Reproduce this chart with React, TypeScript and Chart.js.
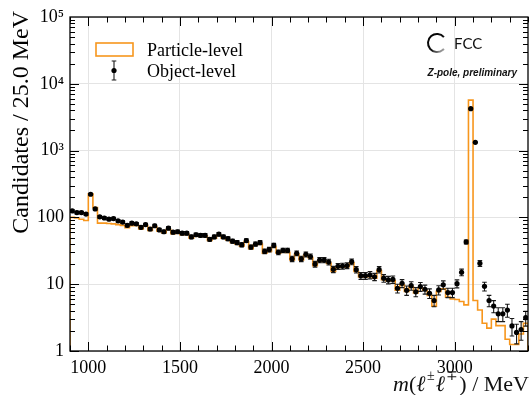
import React, { useEffect, useRef } from 'react';
import { Chart, registerables } from 'chart.js';

Chart.register(...registerables);

// Histogram binning: 100 bins of 25 MeV from 900 to 3400 MeV
const BIN_LOW = 900;
const BIN_WIDTH = 25;

// Object-level (black points), candidates per bin
const objectLevel = [
  125, 118, 118, 112, 222, 134, 102, 98, 94, 96,
  89, 85, 76, 82, 80, 71, 78, 67, 75, 65,
  61, 69, 60, 61, 58, 58, 51, 55, 54, 54,
  47, 51, 56, 51, 48, 44, 42, 39, 45, 36,
  40, 42, 31, 33, 38, 30, 32, 32, 24, 29,
  24, 28, 26, 20, 23, 23, 21.5, 16.7, 18.5, 18.7,
  19, 21.7, 16.5, 13.4, 13.4, 13.7, 12.9, 16.5, 12.3, 11.6,
  11.8, 8.7, 10.3, 8.1, 9.5, 7.7, 9.2, 8.4, 7.3, 5.7,
  8.2, 9.8, 7.5, 7.5, 10.2, 15.1, 43, 4240, 1330, 20.5,
  9.3, 5.7, 4.7, 3.6, 3.6, 4.1, 2.37, 1.9, 2.1, 3.15,
];

// Object-level uncertainties (half length of the error bars)
const objectError = [
  5.0, 4.9, 4.9, 4.7, 6.7, 5.2, 4.5, 4.4, 4.3, 4.4,
  4.2, 4.1, 3.9, 4.0, 4.0, 3.8, 3.9, 3.7, 3.9, 3.6,
  3.5, 3.7, 3.5, 3.5, 3.4, 3.4, 3.2, 3.3, 3.3, 3.3,
  3.1, 3.2, 3.3, 3.2, 3.1, 3.0, 2.9, 2.8, 3.0, 2.7,
  2.8, 2.9, 2.5, 2.6, 2.8, 2.4, 2.5, 2.5, 2.2, 2.4,
  2.2, 2.4, 2.3, 2.0, 2.1, 2.1, 2.1, 1.8, 1.9, 1.9,
  1.9, 2.1, 1.8, 1.6, 1.6, 1.7, 1.6, 1.8, 1.6, 1.5,
  1.5, 1.3, 1.4, 1.3, 1.4, 1.2, 1.4, 1.3, 1.2, 1.1,
  1.3, 1.4, 1.2, 1.2, 1.4, 1.7, 2.9, 29, 16, 2.0,
  1.4, 1.1, 0.97, 0.85, 0.85, 0.9, 0.69, 0.62, 0.65, 0.79,
];

// Particle-level (orange step histogram)
const particleLevel = [
  100, 98, 94, 90, 225, 140, 82, 82, 81, 80,
  78, 76, 70, 75, 76, 67, 74, 64, 72, 62,
  59, 66, 57, 59, 55, 56, 49, 53, 52, 52,
  45, 49, 54, 49, 46, 42, 40, 37, 43, 34,
  39, 40, 29, 31, 36, 29, 31, 30, 23, 28,
  23, 27, 25, 19, 22, 22, 20.5, 15.5, 17.8, 18,
  18.3, 21, 15.5, 12.8, 12.8, 13.1, 12.3, 16, 11.7, 11.2,
  11.3, 8.1, 9.8, 7.8, 9.1, 7.4, 8.7, 8.1, 6.8, 4.7,
  7.8, 8.5, 6.4, 6.0, 5.9, 5.5, 4.9, 5700, 5.7, 4.1,
  2.6, 2.2, 3.0, 2.4, 2.4, 1.5, 1.25, 1.25, 1.8, 2.6,
];

const xTickValues = [1000, 1500, 2000, 2500, 3000];
const yTickValues = [1, 10, 100, 1000, 10000, 100000];
const yTickLabels = ['1', '10', '100', '10³', '10⁴', '10⁵'];

const X_MIN = 900;
const X_MAX = 3400;
const Y_MIN = 1;
const Y_MAX = 100000;

const SERIF = '"Liberation Serif", "Times New Roman", Times, serif';
const SANS = '"Liberation Sans", Arial, Helvetica, sans-serif';
const ORANGE = '#f7961d';

const framePlugin = {
  id: 'frameAndDecor',
  beforeDatasetDraw(chart: any, args: any) {
    if (args.index !== 0) return;
    const { ctx, chartArea, scales } = chart;
    const x = scales.x;
    const y = scales.y;
    ctx.save();
    ctx.beginPath();
    ctx.rect(chartArea.left, chartArea.top, chartArea.right - chartArea.left, chartArea.bottom - chartArea.top);
    ctx.clip();
    ctx.strokeStyle = '#1a1a1a';
    ctx.lineWidth = 1.1;
    ctx.beginPath();
    objectLevel.forEach((v, i) => {
      const e = objectError[i];
      const px = x.getPixelForValue(BIN_LOW + BIN_WIDTH * (i + 0.5));
      const lo = Math.max(v - e, 0.01);
      const pyHi = y.getPixelForValue(v + e);
      const pyLo = y.getPixelForValue(lo);
      ctx.moveTo(px, pyHi);
      ctx.lineTo(px, pyLo);
      ctx.moveTo(px - 2.3, pyHi);
      ctx.lineTo(px + 2.3, pyHi);
      ctx.moveTo(px - 2.3, pyLo);
      ctx.lineTo(px + 2.3, pyLo);
    });
    ctx.stroke();
    ctx.restore();
  },
  afterDraw(chart: any) {
    const { ctx, chartArea, scales } = chart;
    const { left, right, top, bottom } = chartArea;
    const x = scales.x;
    const y = scales.y;
    ctx.save();
    // ticks (inward, all four sides)
    ctx.strokeStyle = '#000';
    ctx.lineWidth = 1;
    ctx.beginPath();
    for (let v = X_MIN; v <= X_MAX; v += 100) {
      const px = Math.round(x.getPixelForValue(v)) + 0.5;
      const len = v % 500 === 0 ? 9 : 5.5;
      ctx.moveTo(px, bottom);
      ctx.lineTo(px, bottom - len);
      ctx.moveTo(px, top);
      ctx.lineTo(px, top + len);
    }
    for (let d = 0; d < 5; d++) {
      for (let k = 1; k <= 9; k++) {
        const v = k * Math.pow(10, d);
        const py = Math.round(y.getPixelForValue(v)) + 0.5;
        const len = k === 1 ? 9 : 5;
        ctx.moveTo(left, py);
        ctx.lineTo(left + len, py);
        ctx.moveTo(right, py);
        ctx.lineTo(right - len, py);
      }
    }
    ctx.stroke();
    ctx.lineWidth = 1.3;
    ctx.strokeRect(left, top, right - left, bottom - top);

    // legend
    ctx.strokeStyle = ORANGE;
    ctx.lineWidth = 1.6;
    ctx.strokeRect(96, 43, 37, 13);
    ctx.fillStyle = '#000';
    ctx.font = `18px ${SERIF}`;
    ctx.textAlign = 'left';
    ctx.textBaseline = 'alphabetic';
    ctx.fillText('Particle-level', 147, 56);
    ctx.fillText('Object-level', 147, 77);
    ctx.strokeStyle = '#1a1a1a';
    ctx.lineWidth = 1.1;
    ctx.beginPath();
    ctx.moveTo(114, 61);
    ctx.lineTo(114, 80);
    ctx.moveTo(111.7, 61);
    ctx.lineTo(116.3, 61);
    ctx.moveTo(111.7, 80);
    ctx.lineTo(116.3, 80);
    ctx.stroke();
    ctx.beginPath();
    ctx.arc(114, 70.5, 2.6, 0, Math.PI * 2);
    ctx.fill();

    // FCC logo
    const cx = 437;
    const cy = 43;
    const r = 9;
    const g = ctx.createLinearGradient(cx - r, cy - r, cx + r, cy + r);
    g.addColorStop(0, '#000');
    g.addColorStop(0.55, '#111');
    g.addColorStop(1, '#d8d8d8');
    ctx.strokeStyle = g;
    ctx.lineWidth = 2;
    ctx.beginPath();
    ctx.arc(cx, cy, r, (-40 * Math.PI) / 180, (40 * Math.PI) / 180, true);
    ctx.stroke();
    ctx.fillStyle = '#111';
    ctx.font = `15px Lato, ${SANS}`;
    ctx.fillText('FCC', 454, 48.5);
    ctx.font = `italic bold 10px ${SANS}`;
    ctx.textAlign = 'right';
    ctx.fillText('Z-pole, preliminary', 517, 76);

    // y axis title
    ctx.save();
    ctx.translate(28, 11);
    ctx.rotate(-Math.PI / 2);
    ctx.textAlign = 'right';
    ctx.fillStyle = '#000';
    ctx.font = `24px ${SERIF}`;
    ctx.fillText('Candidates / 25.0 MeV', 0, 0);
    ctx.restore();

    // x axis title: m(l± l∓) / MeV
    const base = 391;
    const big = `22px ${SERIF}`;
    const bigIt = `italic 22px ${SERIF}`;
    const small = `14px ${SERIF}`;
    const pieces = [
      { t: 'm', f: bigIt, dy: 0, gap: 0 },
      { t: '(', f: big, dy: 0, gap: 0 },
      { t: 'ℓ', f: bigIt, dy: 0, gap: 1.5 },
      { t: '±', f: small, dy: -11, gap: 1 },
      { t: 'ℓ', f: bigIt, dy: 0, gap: 1.5 },
      { t: '∓', f: small, dy: -11, gap: 1 },
      { t: ') / MeV', f: big, dy: 0, gap: 0 },
    ];
    ctx.textAlign = 'left';
    let total = 0;
    const widths = pieces.map((p) => {
      ctx.font = p.f;
      const w = ctx.measureText(p.t).width + p.gap;
      total += w;
      return w;
    });
    let cur = 529 - total;
    pieces.forEach((p, i) => {
      ctx.font = p.f;
      ctx.fillText(p.t, cur, base + p.dy);
      cur += widths[i];
    });
    ctx.restore();
  },
};

export default function App() {
  const canvasRef = useRef<HTMLCanvasElement | null>(null);

  useEffect(() => {
    const canvas = canvasRef.current;
    if (!canvas) return;

    const objData = objectLevel.map((v, i) => ({ x: BIN_LOW + BIN_WIDTH * (i + 0.5), y: v }));
    const partData: { x: number; y: number }[] = [{ x: BIN_LOW, y: 0.5 }];
    particleLevel.forEach((v, i) => {
      partData.push({ x: BIN_LOW + BIN_WIDTH * i, y: v });
      partData.push({ x: BIN_LOW + BIN_WIDTH * (i + 1), y: v });
    });
    partData.push({ x: BIN_LOW + BIN_WIDTH * particleLevel.length, y: 0.5 });

    const chart = new Chart(canvas, {
      type: 'line',
      data: {
        datasets: [
          {
            label: 'Object-level',
            data: objData,
            showLine: false,
            pointRadius: 2.6,
            pointBorderWidth: 0,
            pointBackgroundColor: '#000',
            pointBorderColor: '#000',
          },
          {
            label: 'Particle-level',
            data: partData,
            borderColor: ORANGE,
            borderWidth: 1.6,
            pointRadius: 0,
            fill: false,
            tension: 0,
          },
        ],
      },
      options: {
        responsive: false,
        animation: false,
        events: [],
        layout: { padding: { left: 0, top: 17, right: 2, bottom: 0 } },
        plugins: {
          legend: { display: false },
          tooltip: { enabled: false },
        },
        scales: {
          x: {
            type: 'linear',
            min: X_MIN,
            max: X_MAX,
            afterBuildTicks: (scale: any) => {
              scale.ticks = xTickValues.map((v) => ({ value: v }));
            },
            afterFit: (scale: any) => {
              scale.height = 44;
            },
            grid: { color: '#e4e4e4', lineWidth: 1, drawTicks: false },
            border: { display: false },
            ticks: {
              autoSkip: false,
              maxRotation: 0,
              padding: 6,
              color: '#000',
              font: { family: SERIF, size: 18 },
              callback: (v: any) => String(v),
            },
          },
          y: {
            type: 'logarithmic',
            min: Y_MIN,
            max: Y_MAX,
            afterBuildTicks: (scale: any) => {
              scale.ticks = yTickValues.map((v) => ({ value: v }));
            },
            afterFit: (scale: any) => {
              scale.width = 70;
            },
            grid: { color: '#e4e4e4', lineWidth: 1, drawTicks: false },
            border: { display: false },
            ticks: {
              autoSkip: false,
              padding: 6,
              color: '#000',
              font: { family: SERIF, size: 18 },
              callback: (_v: any, index: number) => yTickLabels[index],
            },
          },
        },
      },
      plugins: [framePlugin],
    } as any);

    return () => chart.destroy();
  }, []);

  return (
    <div style={{ position: 'absolute', left: 0, top: 0, width: 532, height: 395 }}>
      <canvas ref={canvasRef} width={532} height={395} style={{ display: 'block', width: 532, height: 395 }} />
    </div>
  );
}
